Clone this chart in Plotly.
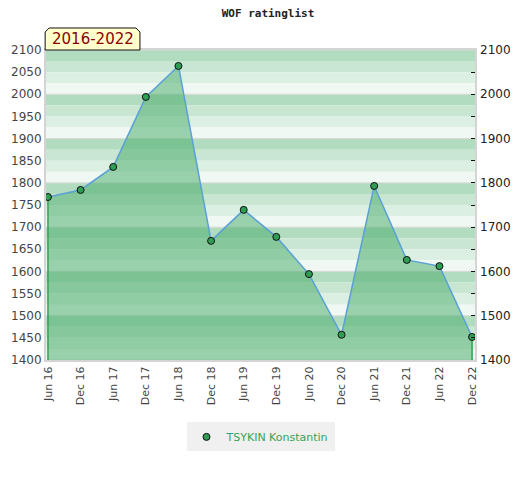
import plotly.graph_objects as go

# dados
periodos = ["Jun 16", "Dec 16", "Jun 17", "Dec 17", "Jun 18", "Dec 18", "Jun 19",
            "Dec 19", "Jun 20", "Dec 20", "Jun 21", "Dec 21", "Jun 22", "Dec 22"]
rating = [1768, 1784, 1836, 1994, 2064, 1669, 1739,
          1678, 1594, 1457, 1793, 1626, 1612, 1452]
jogador = "TSYKIN Konstantin"
periodo_txt = "2016-2022"

y_min, y_max = 1400, 2100
cores_faixas = ["#b2dcbf", "#c8e6d2", "#dcefe3", "#eff8f2"]

fig = go.Figure()

fig.add_trace(go.Scatter(
    x=periodos, y=rating, mode="lines", showlegend=False,
    fill="tozeroy", fillcolor="rgba(67,170,102,0.5)",
    line=dict(color="#5aa0d8", width=1.5), hoverinfo="skip",
))

# bordas verticais da área
fig.add_trace(go.Scatter(x=[periodos[0], periodos[0]], y=[y_min, rating[0]], mode="lines",
                         line=dict(color="#2ea44f", width=1.5), showlegend=False, hoverinfo="skip"))
fig.add_trace(go.Scatter(x=[periodos[-1], periodos[-1]], y=[y_min, rating[-1]], mode="lines",
                         line=dict(color="#2ea44f", width=1.5), showlegend=False, hoverinfo="skip"))

fig.add_trace(go.Scatter(
    x=periodos, y=rating, mode="markers", name=jogador,
    marker=dict(size=7, color="#2e9e55", line=dict(color="#111111", width=1)),
    cliponaxis=False,
))

# faixas do fundo
shapes = []
for base in range(y_min, y_max, 100):
    for i, cor in enumerate(cores_faixas):
        topo = base + 100 - 25 * i
        shapes.append(dict(type="rect", xref="paper", yref="y", x0=0, x1=1,
                           y0=topo - 25, y1=topo, fillcolor=cor, line_width=0, layer="below"))
for v in range(y_min, y_max + 1, 100):
    shapes.append(dict(type="line", xref="paper", yref="y", x0=0, x1=1, y0=v, y1=v,
                       line=dict(color="#d8d8d8", width=1), layer="below"))

# caixa do período (cantos chanfrados)
bx0, bx1, by0, by1 = -0.002, 0.219, 1.0, 1.071
dx, dy = 0.0093, 0.013
shapes.append(dict(type="path", xref="paper", yref="paper",
                   path=f"M {bx0} {by0} L {bx0} {by1 - dy} L {bx0 + dx} {by1} L {bx1 - dx} {by1} "
                        f"L {bx1} {by1 - dy} L {bx1} {by0} Z",
                   fillcolor="#ffffcc", line=dict(color="#111111", width=1)))

fig.add_annotation(x=(bx0 + bx1) / 2, y=(by0 + by1) / 2, xref="paper", yref="paper",
                   xanchor="center", yanchor="middle",
                   text=periodo_txt, showarrow=False,
                   font=dict(family="DejaVu Sans", size=15, color="#8b0000"))

# a página tem 8px de margem no body
fig.update_layout(
    width=520, height=480,
    margin=dict(l=38, r=53, t=42, b=128),
    paper_bgcolor="white", plot_bgcolor="white",
    title=dict(text="WOF ratinglist", x=0.5, xanchor="center", y=0.9896, yanchor="middle",
               automargin=False,
               font=dict(family="DejaVu Sans Mono", size=11, color="#222222", weight="bold")),
    shapes=shapes,
    showlegend=True,
    legend=dict(orientation="h", x=0.5, xanchor="center", y=-0.248, yanchor="middle",
                bgcolor="#f0f0f0", itemwidth=30, tracegroupgap=0,
                font=dict(family="DejaVu Sans", size=11, color="#33a455")),
    xaxis=dict(type="category", categoryorder="array", categoryarray=periodos,
               range=[-0.06, 13.09], tickangle=-90, showgrid=False, automargin=False,
               tickfont=dict(family="DejaVu Sans", size=11, color="#444444"),
               showline=True, linecolor="#d4d4d4", linewidth=2, mirror=True, ticks=""),
    yaxis=dict(range=[y_min, y_max], dtick=50, showgrid=False, zeroline=False, automargin=False,
               tickfont=dict(family="DejaVu Sans", size=12, color="#444444"),
               showline=True, linecolor="#d4d4d4", linewidth=2, mirror=True, ticks=""),
    yaxis2=dict(range=[y_min, y_max], dtick=100, overlaying="y", side="right", showgrid=False,
                zeroline=False, automargin=False, ticks="inside", ticklen=4, tickcolor="#111111",
                ticklabelstandoff=4,
                minor=dict(dtick=50, ticks="inside", ticklen=4, tickcolor="#111111"),
                tickfont=dict(family="DejaVu Sans", size=12, color="#222222")),
)

# eixo direito precisa de um traço para aparecer
fig.add_trace(go.Scatter(x=periodos, y=rating, yaxis="y2", mode="none",
                         showlegend=False, hoverinfo="skip"))

fig.write_html("out.html")
